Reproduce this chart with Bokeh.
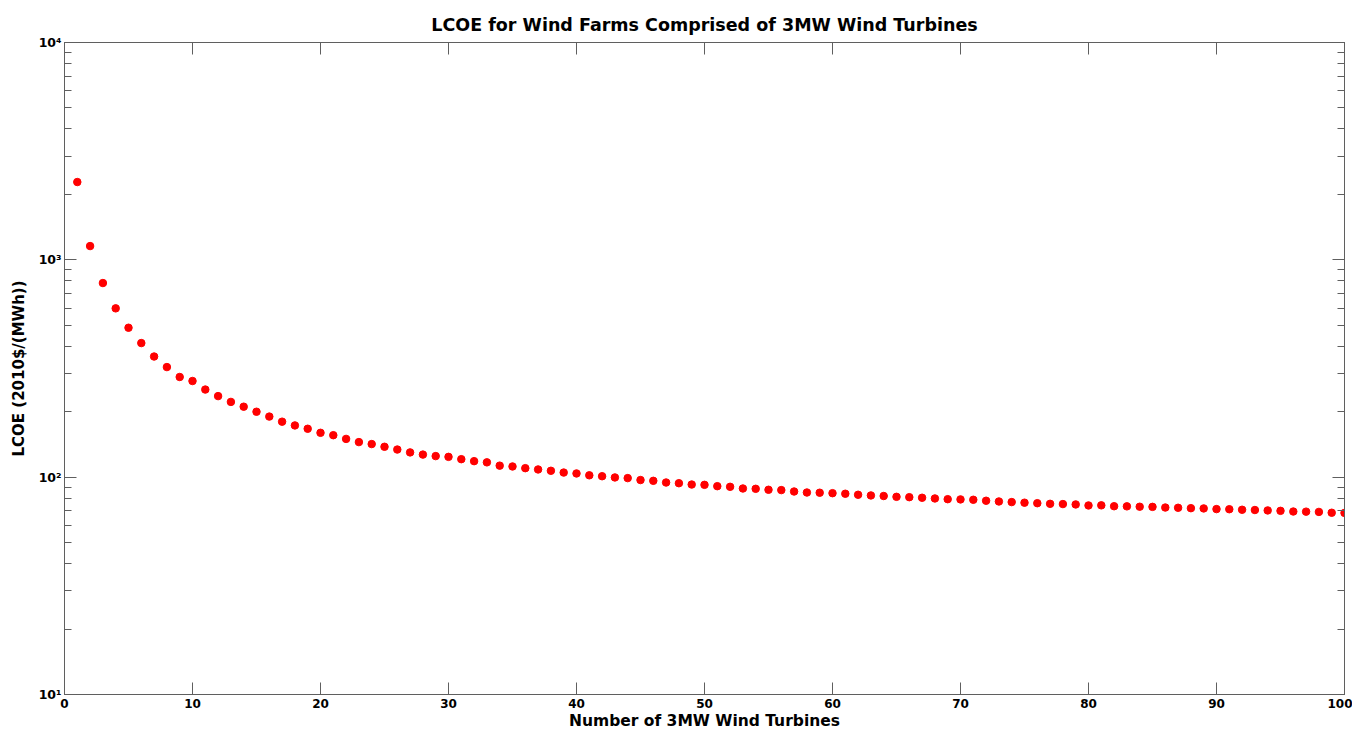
from bokeh.plotting import figure
from bokeh.models import LinearAxis, LogAxis, FixedTicker
from bokeh.embed import file_html
from bokeh.resources import INLINE

title_text = "LCOE for Wind Farms Comprised of 3MW Wind Turbines"
x_label = "Number of 3MW Wind Turbines"
y_label = "LCOE (2010$/(MWh))"

x_ticks = [0, 10, 20, 30, 40, 50, 60, 70, 80, 90, 100]
y_ticks = [10, 100, 1000, 10000]
y_tick_labels = {10: "10\u00b9", 100: "10\u00b2", 1000: "10\u00b3", 10000: "10\u2074"}

turbines = list(range(1, 101))
lcoe = [
    2280, 1157, 782, 598, 487, 414, 359, 321, 289, 277,
    253, 236, 222, 211, 200, 190, 180, 173, 167, 160,
    156, 150, 145, 142, 138, 134, 130, 127, 125, 124,
    121, 118.5, 117, 113, 112, 110, 108.5, 107, 105, 104,
    102, 101, 99.7, 99, 97, 96.2, 94.5, 93.8, 92.5, 92.2,
    90.9, 90.3, 88.7, 88.4, 87.5, 87.2, 85.9, 85.0, 84.8, 84.4,
    83.9, 83.0, 82.4, 81.9, 81.2, 80.9, 80.4, 79.8, 79.2, 79.0,
    78.7, 77.9, 77.3, 76.8, 76.3, 75.9, 75.4, 75.2, 74.9, 74.1,
    74.2, 73.5, 73.4, 73.1, 73.0, 72.5, 72.3, 72.0, 71.8, 71.3,
    71.2, 70.8, 70.6, 70.3, 70.0, 69.5, 69.4, 69.2, 68.6, 68.5,
]

FONT = "DejaVu Sans"
AX = "#5f5f5f"

y_minor = [m * 10 ** e for e in (1, 2, 3) for m in range(2, 10)]

p = figure(width=1352, height=732, x_range=(0, 100), y_range=(10, 10000),
           y_axis_type="log", output_backend="svg", toolbar_location=None,
           min_border_left=64, min_border_right=8, min_border_top=42,
           min_border_bottom=38)

p.title.text = title_text
p.title.align = "center"
p.title.text_font = FONT
p.title.text_font_size = "17.5px"
p.title.text_font_style = "bold"
p.title.text_color = "black"
p.title.standoff = 15

p.xgrid.visible = False
p.ygrid.visible = False
p.outline_line_color = AX
p.background_fill_color = "white"
p.border_fill_color = "white"

xa = p.xaxis[0]
xa.ticker = FixedTicker(ticks=x_ticks)
xa.axis_label = x_label
xa.axis_label_text_font = FONT
xa.axis_label_text_font_size = "15.5px"
xa.axis_label_text_font_style = "bold"
xa.axis_label_text_color = "black"
xa.axis_label_standoff = 1
xa.major_label_text_font = FONT
xa.major_label_text_font_size = "12px"
xa.major_label_text_font_style = "bold"
xa.major_label_text_color = "black"
xa.major_label_standoff = 4
xa.major_tick_in = 12
xa.major_tick_out = 0
xa.minor_tick_in = 0
xa.minor_tick_out = 0
xa.axis_line_color = AX
xa.major_tick_line_color = AX

ya = p.yaxis[0]
ya.ticker = FixedTicker(ticks=y_ticks, minor_ticks=y_minor)
ya.major_label_overrides = y_tick_labels
ya.axis_label = y_label
ya.axis_label_text_font = FONT
ya.axis_label_text_font_size = "15px"
ya.axis_label_text_font_style = "bold"
ya.axis_label_text_color = "black"
ya.axis_label_standoff = 8
ya.major_label_text_font = FONT
ya.major_label_text_font_size = "12.5px"
ya.major_label_text_font_style = "bold"
ya.major_label_text_color = "black"
ya.major_label_standoff = 3
ya.major_tick_in = 12
ya.major_tick_out = 0
ya.minor_tick_in = 7
ya.minor_tick_out = 0
ya.axis_line_color = AX
ya.major_tick_line_color = AX
ya.minor_tick_line_color = AX

top = LinearAxis(ticker=FixedTicker(ticks=x_ticks), major_label_text_font_size="0px",
                 major_label_standoff=0, major_tick_in=12, major_tick_out=0,
                 minor_tick_in=0, minor_tick_out=0, axis_line_color=AX,
                 major_tick_line_color=AX)
top.major_label_overrides = {t: "" for t in x_ticks}
p.add_layout(top, "above")

right = LogAxis(ticker=FixedTicker(ticks=y_ticks, minor_ticks=y_minor),
                major_label_text_font_size="0px", major_label_standoff=0,
                major_tick_in=12, major_tick_out=0, minor_tick_in=7, minor_tick_out=0,
                axis_line_color=AX, major_tick_line_color=AX, minor_tick_line_color=AX)
right.major_label_overrides = {t: "" for t in y_ticks}
p.add_layout(right, "right")

p.scatter(turbines, lcoe, size=7.5, color="#ff0000", line_color="#ff0000")

open("out.html", "w").write(file_html(p, INLINE))
